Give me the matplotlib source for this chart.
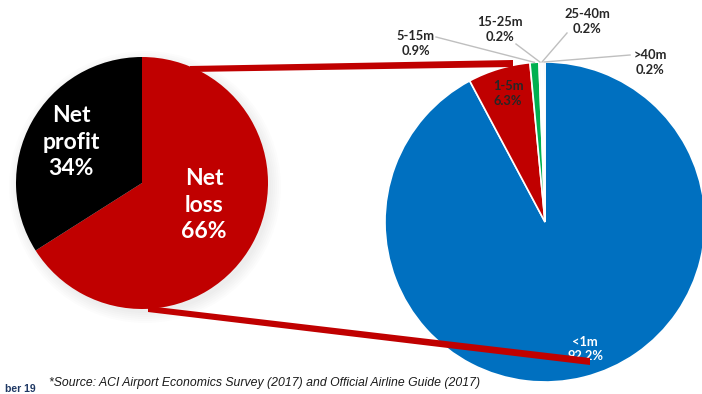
import numpy as np
import matplotlib.pyplot as plt
from matplotlib.patches import Polygon, Circle

# profit split of airports
split_labels = ['Net\nloss', 'Net\nprofit']
split_values = [66, 34]

# loss-making airports by passenger size class
size_labels = ['<1m', '1-5m', '5-15m', '15-25m', '25-40m', '>40m']
size_values = [92.2, 6.3, 0.9, 0.2, 0.2, 0.2]

H = 394  # figure height in px, y below given from top

def Y(y):
    return H - y

fig = plt.figure(figsize=(7.02, 3.94), dpi=100)
ax = fig.add_axes([0, 0, 1, 1])

# faint shadow behind left pie
for k in range(6):
    ax.add_patch(Circle((142 + 3, Y(183) - 4), 126 + 10 - k * 2, color='#000000',
                        alpha=0.012, lw=0, zorder=0))

# left pie
lc, lr = (142, Y(183)), 126
ax.pie(split_values, colors=['#c00000', '#000000'], startangle=90, counterclock=False,
       center=lc, radius=lr, frame=True, wedgeprops=dict(lw=0))
ax.text(204, Y(205), '%s\n%d%%' % (split_labels[0], split_values[0]), color='white',
        fontsize=16.5, fontweight='bold', family='Lato', ha='center', va='center',
        linespacing=1.3)
ax.text(71, Y(142), '%s\n%d%%' % (split_labels[1], split_values[1]), color='white',
        fontsize=16.5, fontweight='bold', family='Lato', ha='center', va='center',
        linespacing=1.3)

# right pie
rc, rr = (545, Y(222)), 160
cols = ['#0070c0', '#c00000', '#00b050', '#dbe5f1', '#f2f2f2', '#dbe5f1']
ax.pie(size_values, colors=cols, startangle=90, counterclock=False,
       center=rc, radius=rr, frame=True, wedgeprops=dict(lw=1.2, edgecolor='white'))

# wedge mid angles
frac = np.array(size_values) / np.sum(size_values)
start = 90 - 360 * np.concatenate([[0], np.cumsum(frac)[:-1]])
mid = start - 180 * frac

def lab(i):
    return '%s\n%.1f%%' % (size_labels[i], size_values[i])

# small slices: label outside with grey leader
outside = {2: (416, 43), 3: (500, 29), 4: (587, 21), 5: (650, 62)}
line_from = {2: (436, 37), 3: (516, 44), 4: (567, 33), 5: (630, 55)}
for i, (tx, ty) in outside.items():
    a = np.deg2rad(mid[i])
    px, py = rc[0] + rr * np.cos(a), rc[1] + rr * np.sin(a)
    lx, ly = line_from[i]
    ax.plot([lx, px], [Y(ly), py], color='#bfbfbf', lw=1, zorder=3)
    ax.text(tx, Y(ty), lab(i), fontsize=9.3, fontweight='bold', family='Lato',
            color='#262626', ha='center', va='center', linespacing=1.3, zorder=4)

ax.text(508, Y(93), lab(1), fontsize=9.3, fontweight='bold', family='Lato',
        color='#262626', ha='center', va='center', linespacing=1.3, zorder=4)
ax.text(585, Y(349), lab(0), fontsize=9.3, fontweight='bold', family='Lato',
        color='white', ha='center', va='center', linespacing=1.3, zorder=4)

# red connectors between the pies
ax.add_patch(Polygon([(190, Y(66)), (513, Y(60)), (513, Y(67)), (190, Y(72))],
                     color='#c00000', lw=0, zorder=5))
ax.add_patch(Polygon([(148, Y(306)), (590, Y(358)), (590, Y(365)), (148, Y(312))],
                     color='#c00000', lw=0, zorder=5))

ax.text(49, Y(383), '*Source: ACI Airport Economics Survey (2017) and Official Airline Guide (2017)',
        fontsize=8.8, style='italic', family='Liberation Sans', color='#1a1a1a',
        ha='left', va='center')
ax.text(5, Y(389), 'ber 19', fontsize=7.5, fontweight='bold', family='Liberation Sans',
        color='#1f3864', ha='left', va='center')

ax.set_xlim(0, 702)
ax.set_ylim(0, H)
ax.set_aspect('auto')
ax.axis('off')

fig.savefig('out.png', dpi=100)
